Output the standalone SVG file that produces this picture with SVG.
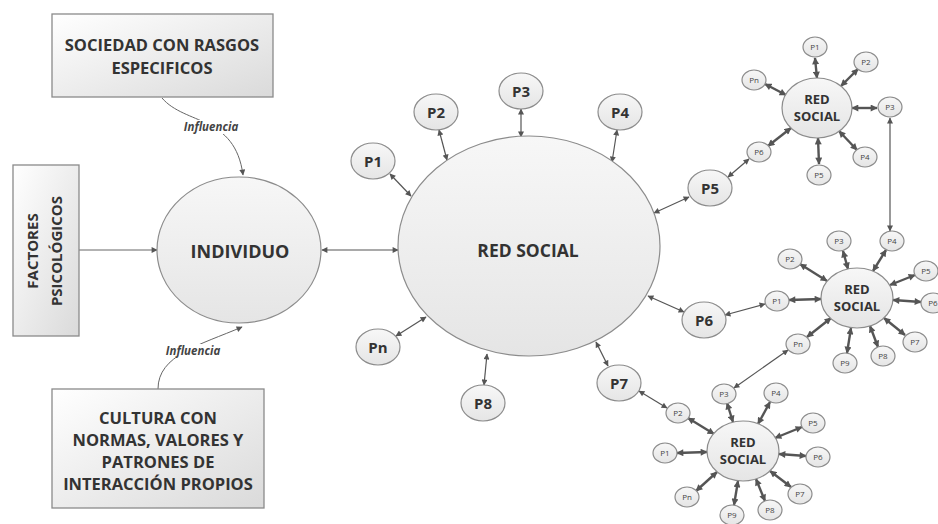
<svg xmlns="http://www.w3.org/2000/svg" width="938" height="524" viewBox="0 0 938 524">
<defs>
<linearGradient id="gBox" x1="0" y1="0" x2="1" y2="1"><stop offset="0" stop-color="#ffffff"/><stop offset="1" stop-color="#dadada"/></linearGradient>
<linearGradient id="gNode" x1="0" y1="0" x2="0" y2="1"><stop offset="0" stop-color="#f7f7f7"/><stop offset="1" stop-color="#e5e5e5"/></linearGradient>
<marker id="ah" viewBox="0 0 10 10" refX="9" refY="5" markerWidth="7" markerHeight="6" markerUnits="userSpaceOnUse" orient="auto-start-reverse"><path d="M0,0 L10,5 L0,10 z" fill="#555"/></marker>
<marker id="ahb" viewBox="0 0 10 10" refX="9" refY="5" markerWidth="8" markerHeight="7" markerUnits="userSpaceOnUse" orient="auto-start-reverse"><path d="M0,0 L10,5 L0,10 z" fill="#555"/></marker>
</defs>
<style>
.box{fill:url(#gBox);stroke:#8a8a8a;stroke-width:1.3}
.nd{fill:url(#gNode);stroke:#8c8c8c;stroke-width:1.2}
.t{font-family:"Open Sans","Liberation Sans",sans-serif;font-weight:bold;fill:#333;text-anchor:middle}
.bt{font-size:16.5px}
.pt{font-size:15px}
.ct{font-size:13px}
.st{font-size:8px;font-weight:normal;fill:#444}
.lab{font-family:"Open Sans","Liberation Sans",sans-serif;font-style:italic;font-weight:bold;font-size:11.5px;fill:#444;text-anchor:middle}
.c{stroke:#555;stroke-width:1.2;fill:none;marker-start:url(#ah);marker-end:url(#ah)}
.c1{stroke:#666;stroke-width:1;fill:none;marker-end:url(#ah)}
.cb{stroke:#555;stroke-width:2.4;fill:none;marker-start:url(#ahb);marker-end:url(#ahb)}
</style>
<rect width="938" height="524" fill="#ffffff"/>

<g id="connectors">
<path class="c1" d="M162,98 C185,125 235,115 243,175"/>
<path class="c1" d="M158,389 C158,355 200,345 242,327"/>
<line class="c1" x1="79" y1="250" x2="157" y2="250"/>
<line class="c" x1="322" y1="250" x2="398" y2="250"/>
<line class="c" x1="390" y1="174" x2="411" y2="196"/>
<line class="c" x1="439" y1="130" x2="447" y2="160"/>
<line class="c" x1="521" y1="109" x2="521" y2="137"/>
<line class="c" x1="617" y1="130" x2="612" y2="162"/>
<line class="c" x1="689" y1="197" x2="654" y2="213"/>
<line class="c" x1="684" y1="312" x2="648" y2="296"/>
<line class="c" x1="608" y1="366" x2="596" y2="342"/>
<line class="c" x1="484" y1="385" x2="487" y2="354"/>
<line class="c" x1="396" y1="336" x2="426" y2="317"/>
<line class="c" x1="728" y1="177" x2="749" y2="159"/>
<line class="c" x1="890" y1="118" x2="890" y2="231"/>
<line class="c" x1="725" y1="315" x2="765" y2="304"/>
<line class="c" x1="788" y1="350" x2="734" y2="388"/>
<line class="c" x1="639" y1="391" x2="667" y2="408"/>
<line class="cb" x1="815" y1="58" x2="817" y2="78"/>
<line class="cb" x1="858" y1="69" x2="841" y2="86"/>
<line class="cb" x1="877" y1="108" x2="852" y2="108"/>
<line class="cb" x1="857" y1="150" x2="839" y2="131"/>
<line class="cb" x1="819" y1="164" x2="818" y2="138"/>
<line class="cb" x1="768" y1="146" x2="791" y2="128"/>
<line class="cb" x1="765" y1="84" x2="786" y2="95"/>
<line class="cb" x1="789" y1="300" x2="821" y2="299"/>
<line class="cb" x1="800" y1="264" x2="827" y2="281"/>
<line class="cb" x1="843" y1="251" x2="848" y2="269"/>
<line class="cb" x1="886" y1="250" x2="873" y2="271"/>
<line class="cb" x1="915" y1="275" x2="890" y2="285"/>
<line class="cb" x1="921" y1="302" x2="893" y2="300"/>
<line class="cb" x1="905" y1="335" x2="884" y2="318"/>
<line class="cb" x1="878" y1="347" x2="870" y2="326"/>
<line class="cb" x1="847" y1="353" x2="851" y2="328"/>
<line class="cb" x1="807" y1="337" x2="831" y2="318"/>
<line class="cb" x1="677" y1="453" x2="707" y2="452"/>
<line class="cb" x1="688" y1="418" x2="714" y2="434"/>
<line class="cb" x1="727" y1="403" x2="733" y2="422"/>
<line class="cb" x1="770" y1="402" x2="758" y2="424"/>
<line class="cb" x1="802" y1="427" x2="775" y2="438"/>
<line class="cb" x1="806" y1="456" x2="779" y2="454"/>
<line class="cb" x1="791" y1="487" x2="770" y2="471"/>
<line class="cb" x1="765" y1="501" x2="756" y2="479"/>
<line class="cb" x1="734" y1="505" x2="738" y2="481"/>
<line class="cb" x1="696" y1="491" x2="717" y2="472"/>
<rect x="181" y="120" width="60" height="14" fill="#ffffff"/>
<text class="lab" x="211" y="131">Influencia</text>
<rect x="163" y="344" width="60" height="14" fill="#ffffff"/>
<text class="lab" x="193" y="355">Influencia</text>
</g>

<g id="sociedad"><rect class="box" x="52" y="14" width="221" height="83"/>
<text class="t bt" x="162" y="51">SOCIEDAD CON RASGOS</text>
<text class="t bt" x="162" y="74">ESPECIFICOS</text></g>

<g id="factores"><rect class="box" x="13" y="165" width="66" height="171"/>
<text class="t" font-size="15" transform="translate(38,251) rotate(-90)">FACTORES</text>
<text class="t" font-size="15" transform="translate(62,251) rotate(-90)">PSICOLÓGICOS</text></g>

<g id="cultura"><rect class="box" x="52" y="389" width="212" height="119"/>
<text class="t bt" x="158" y="424">CULTURA CON</text>
<text class="t bt" x="158" y="446">NORMAS, VALORES Y</text>
<text class="t bt" x="158" y="468">PATRONES DE</text>
<text class="t bt" x="158" y="490">INTERACCIÓN PROPIOS</text></g>

<g id="individuo"><ellipse class="nd" cx="239" cy="250" rx="82" ry="73"/>
<text class="t" font-size="18" x="240" y="258">INDIVIDUO</text></g>

<g id="red-social"><ellipse class="nd" cx="529" cy="246" rx="131" ry="110"/>
<text class="t" font-size="17.5" x="528" y="257">RED SOCIAL</text></g>

<g id="p1"><ellipse class="nd" cx="373" cy="161" rx="22" ry="18"/><text class="t pt" x="373" y="166.5">P1</text></g>
<g id="p2"><ellipse class="nd" cx="436" cy="112" rx="22" ry="18"/><text class="t pt" x="436" y="117.5">P2</text></g>
<g id="p3"><ellipse class="nd" cx="521" cy="91" rx="22" ry="18"/><text class="t pt" x="521" y="96.5">P3</text></g>
<g id="p4"><ellipse class="nd" cx="620" cy="112" rx="22" ry="18"/><text class="t pt" x="620" y="117.5">P4</text></g>
<g id="p5"><ellipse class="nd" cx="710" cy="188" rx="22" ry="18"/><text class="t pt" x="710" y="193.5">P5</text></g>
<g id="p6"><ellipse class="nd" cx="704" cy="320" rx="22" ry="18"/><text class="t pt" x="704" y="325.5">P6</text></g>
<g id="p7"><ellipse class="nd" cx="619" cy="383" rx="22" ry="18"/><text class="t pt" x="619" y="388.5">P7</text></g>
<g id="p8"><ellipse class="nd" cx="483" cy="403" rx="22" ry="18"/><text class="t pt" x="483" y="408.5">P8</text></g>
<g id="pn"><ellipse class="nd" cx="378" cy="347" rx="22" ry="18"/><text class="t pt" x="378" y="352.5">Pn</text></g>

<g id="red-social-1"><ellipse class="nd" cx="817" cy="108" rx="35" ry="30"/>
<text class="t ct" x="817" y="104">RED</text><text class="t ct" x="817" y="121">SOCIAL</text></g>
<g id="r1-p1"><ellipse class="nd" cx="815" cy="47" rx="12" ry="10"/><text class="t st" x="815" y="50">P1</text></g>
<g id="r1-p2"><ellipse class="nd" cx="866" cy="62" rx="12" ry="10"/><text class="t st" x="866" y="65">P2</text></g>
<g id="r1-p3"><ellipse class="nd" cx="890" cy="107" rx="12" ry="10"/><text class="t st" x="890" y="110">P3</text></g>
<g id="r1-p4"><ellipse class="nd" cx="865" cy="157" rx="12" ry="10"/><text class="t st" x="865" y="160">P4</text></g>
<g id="r1-p5"><ellipse class="nd" cx="819" cy="175" rx="12" ry="10"/><text class="t st" x="819" y="178">P5</text></g>
<g id="r1-p6"><ellipse class="nd" cx="759" cy="152" rx="12" ry="10"/><text class="t st" x="759" y="155">P6</text></g>
<g id="r1-pn"><ellipse class="nd" cx="754" cy="80" rx="12" ry="10"/><text class="t st" x="754" y="83">Pn</text></g>

<g id="red-social-2"><ellipse class="nd" cx="857" cy="298" rx="36" ry="30"/>
<text class="t ct" x="857" y="294">RED</text><text class="t ct" x="857" y="311">SOCIAL</text></g>
<g id="r2-p1"><ellipse class="nd" cx="777" cy="301" rx="12" ry="10"/><text class="t st" x="777" y="304">P1</text></g>
<g id="r2-p2"><ellipse class="nd" cx="790" cy="259" rx="12" ry="10"/><text class="t st" x="790" y="262">P2</text></g>
<g id="r2-p3"><ellipse class="nd" cx="839" cy="241" rx="12" ry="10"/><text class="t st" x="839" y="244">P3</text></g>
<g id="r2-p4"><ellipse class="nd" cx="892" cy="241" rx="12" ry="10"/><text class="t st" x="892" y="244">P4</text></g>
<g id="r2-p5"><ellipse class="nd" cx="926" cy="271" rx="12" ry="10"/><text class="t st" x="926" y="274">P5</text></g>
<g id="r2-p6"><ellipse class="nd" cx="933" cy="303" rx="12" ry="10"/><text class="t st" x="933" y="306">P6</text></g>
<g id="r2-p7"><ellipse class="nd" cx="915" cy="342" rx="12" ry="10"/><text class="t st" x="915" y="345">P7</text></g>
<g id="r2-p8"><ellipse class="nd" cx="883" cy="356" rx="12" ry="10"/><text class="t st" x="883" y="359">P8</text></g>
<g id="r2-p9"><ellipse class="nd" cx="845" cy="363" rx="12" ry="10"/><text class="t st" x="845" y="366">P9</text></g>
<g id="r2-pn"><ellipse class="nd" cx="798" cy="344" rx="12" ry="10"/><text class="t st" x="798" y="347">Pn</text></g>

<g id="red-social-3"><ellipse class="nd" cx="743" cy="451" rx="36" ry="30"/>
<text class="t ct" x="743" y="447">RED</text><text class="t ct" x="743" y="464">SOCIAL</text></g>
<g id="r3-p1"><ellipse class="nd" cx="665" cy="453" rx="12" ry="10"/><text class="t st" x="665" y="456">P1</text></g>
<g id="r3-p2"><ellipse class="nd" cx="678" cy="413" rx="12" ry="10"/><text class="t st" x="678" y="416">P2</text></g>
<g id="r3-p3"><ellipse class="nd" cx="724" cy="394" rx="12" ry="10"/><text class="t st" x="724" y="397">P3</text></g>
<g id="r3-p4"><ellipse class="nd" cx="776" cy="393" rx="12" ry="10"/><text class="t st" x="776" y="396">P4</text></g>
<g id="r3-p5"><ellipse class="nd" cx="813" cy="423" rx="12" ry="10"/><text class="t st" x="813" y="426">P5</text></g>
<g id="r3-p6"><ellipse class="nd" cx="818" cy="457" rx="12" ry="10"/><text class="t st" x="818" y="460">P6</text></g>
<g id="r3-p7"><ellipse class="nd" cx="800" cy="494" rx="12" ry="10"/><text class="t st" x="800" y="497">P7</text></g>
<g id="r3-p8"><ellipse class="nd" cx="770" cy="510" rx="12" ry="10"/><text class="t st" x="770" y="513">P8</text></g>
<g id="r3-p9"><ellipse class="nd" cx="732" cy="515" rx="12" ry="10"/><text class="t st" x="732" y="518">P9</text></g>
<g id="r3-pn"><ellipse class="nd" cx="687" cy="497" rx="12" ry="10"/><text class="t st" x="687" y="500">Pn</text></g>
</svg>
